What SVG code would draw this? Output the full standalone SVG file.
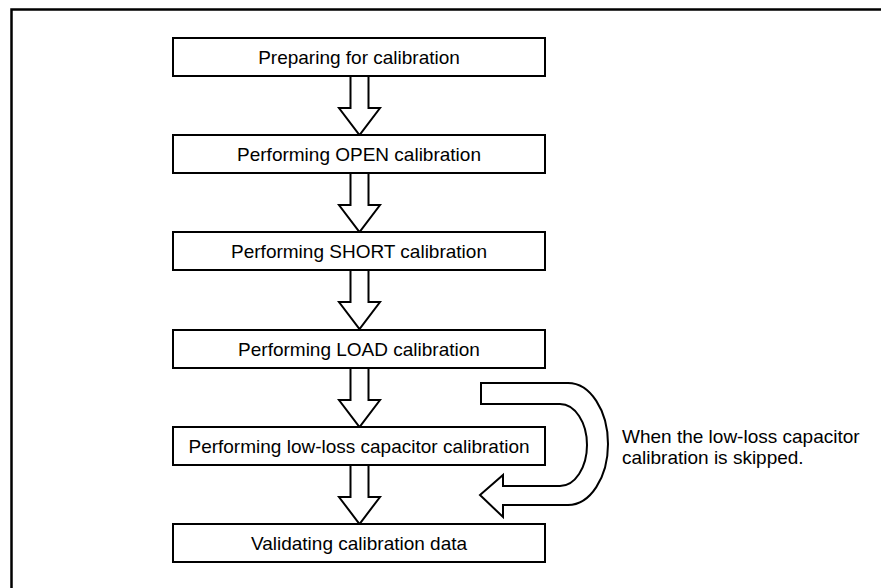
<svg xmlns="http://www.w3.org/2000/svg" width="881" height="588" viewBox="0 0 881 588">
<style>
.box{fill:#fff;stroke:#000;stroke-width:2}
.lbl{font-family:"Liberation Sans",Arial,sans-serif;font-size:19px;fill:#000;text-anchor:middle}
.note{font-family:"Liberation Sans",Arial,sans-serif;font-size:19px;fill:#000}
.arr{fill:#fff;stroke:#000;stroke-width:2;stroke-linejoin:miter}
</style>
<defs>
<path id="down" d="M-9,0 V32 H-20.5 L0,59 L20.5,32 H9 V0" class="arr"/>
</defs>
<rect x="0" y="0" width="881" height="588" fill="#fff"/>
<rect x="11.5" y="9.5" width="885" height="600" fill="none" stroke="#000" stroke-width="2.5"/>
<g id="connectors">
<use href="#down" x="359.5" y="76"/>
<use href="#down" x="359.5" y="173"/>
<use href="#down" x="359.5" y="270"/>
<use href="#down" x="359.5" y="368"/>
<use href="#down" x="359.5" y="465"/>
<path id="bypass" class="arr" d="M481,383 H568 A40,61 0 0 1 568,505 H503 V517 L480,495 L503,475 V486 H560 A27,41 0 0 0 560,404 H481 Z"/>
</g>
<g id="n1"><rect class="box" x="173" y="38" width="372" height="38"/><text class="lbl" x="359" y="64">Preparing for calibration</text></g>
<g id="n2"><rect class="box" x="173" y="135" width="372" height="38"/><text class="lbl" x="359" y="161">Performing OPEN calibration</text></g>
<g id="n3"><rect class="box" x="173" y="232" width="372" height="38"/><text class="lbl" x="359" y="258">Performing SHORT calibration</text></g>
<g id="n4"><rect class="box" x="173" y="330" width="372" height="38"/><text class="lbl" x="359" y="356">Performing LOAD calibration</text></g>
<g id="n5"><rect class="box" x="173" y="427" width="372" height="38"/><text class="lbl" x="359" y="453">Performing low-loss capacitor calibration</text></g>
<g id="n6"><rect class="box" x="173" y="524" width="372" height="38"/><text class="lbl" x="359" y="550">Validating calibration data</text></g>
<g id="note"><text class="note" x="622" y="443">When the low-loss capacitor</text><text class="note" x="622" y="464">calibration is skipped.</text></g>
</svg>
